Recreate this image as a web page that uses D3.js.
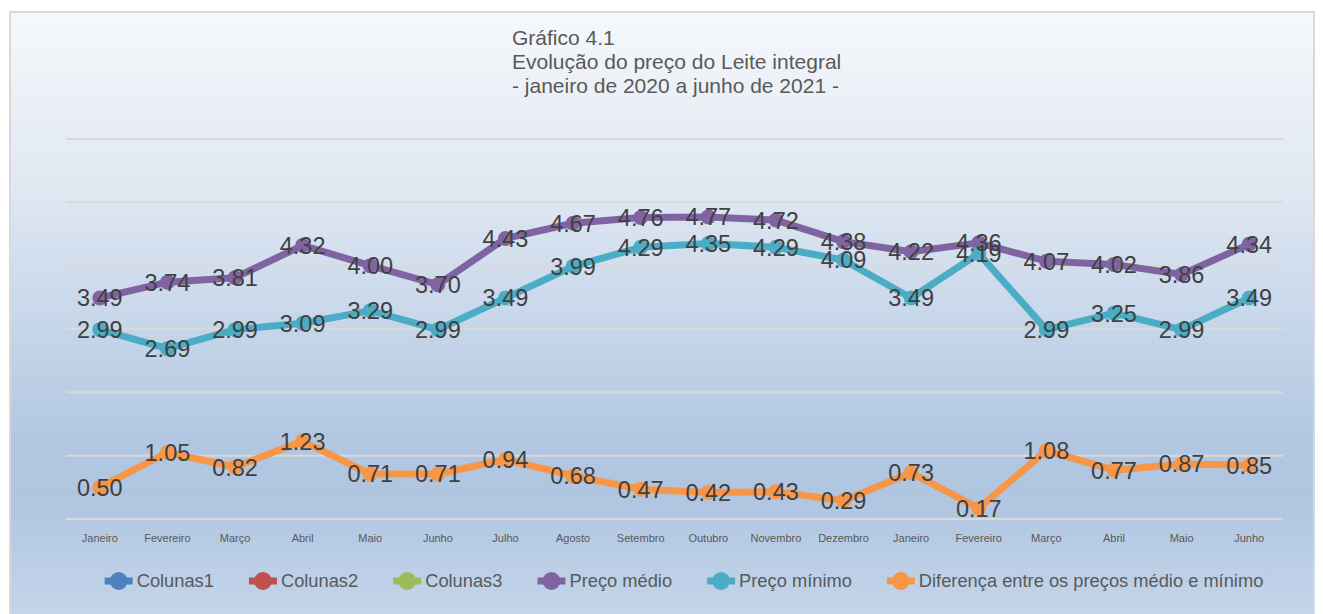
<!DOCTYPE html>
<html><head><meta charset="utf-8">
<script src="https://cdn.jsdelivr.net/npm/d3@7"></script>
<style>html,body{margin:0;padding:0;background:#fff;}svg{display:block;}</style>
</head><body>
<svg id="c" width="1323" height="614"></svg>
<script>
const months = ["Janeiro","Fevereiro","Março","Abril","Maio","Junho","Julho","Agosto","Setembro","Outubro","Novembro","Dezembro","Janeiro","Fevereiro","Março","Abril","Maio","Junho"];
const precoMedio = [3.49,3.74,3.81,4.32,4.00,3.70,4.43,4.67,4.76,4.77,4.72,4.38,4.22,4.36,4.07,4.02,3.86,4.34];
const precoMinimo = [2.99,2.69,2.99,3.09,3.29,2.99,3.49,3.99,4.29,4.35,4.29,4.09,3.49,4.19,2.99,3.25,2.99,3.49];
const diferenca = [0.50,1.05,0.82,1.23,0.71,0.71,0.94,0.68,0.47,0.42,0.43,0.29,0.73,0.17,1.08,0.77,0.87,0.85];
const yTicks = [0,1,2,3,4,5,6];
const titleLines = ["Gráfico 4.1","Evolução do preço do Leite integral","- janeiro de 2020 a junho de 2021 -"];
const legendNames = ["Colunas1","Colunas2","Colunas3","Preço médio","Preço mínimo","Diferença entre os preços médio e mínimo"];
const legendColors = ["#4f81bd","#c0504d","#9bbb59","#8064a2","#4bacc6","#f79646"];

const svg = d3.select("#c");
const font = "'Liberation Sans', Arial, sans-serif";

const defs = svg.append("defs");
const g = defs.append("linearGradient").attr("id","bg").attr("x1",0).attr("y1",0).attr("x2",0).attr("y2",1);
[[0,"#f6f8fb"],[0.3,"#dfe7f2"],[0.7,"#b2c8e2"],[0.8,"#afc5e0"],[1,"#c3d5ea"]].forEach(s=>g.append("stop").attr("offset",s[0]).attr("stop-color",s[1]));

svg.append("rect").attr("x",10).attr("y",12).attr("width",1304).attr("height",604)
  .attr("fill","url(#bg)").attr("stroke","#d9d9d9").attr("stroke-width",2);

const x = d3.scaleBand().domain(d3.range(months.length)).range([66,1283]);
const y = d3.scaleLinear().domain([0,6]).range([519,139]);

// gridlines
svg.append("g").selectAll("line").data(yTicks).join("line")
  .attr("x1",66).attr("x2",1283).attr("y1",d=>y(d)).attr("y2",d=>y(d))
  .attr("stroke","#d9d9d9").attr("stroke-width",2);

// x axis labels
const xAxis = d3.axisBottom(x).tickSize(0).tickPadding(0).tickFormat(i=>months[i]);
const ax = svg.append("g").attr("transform",`translate(0,${534})`).call(xAxis);
ax.select(".domain").remove();
ax.selectAll("text").attr("font-family",font).attr("font-size",11).attr("fill","#595959").attr("dy","0.71em");

const cx = i => x(i) + x.bandwidth()/2;
const series = [
  {vals:precoMedio,color:"#8064a2"},
  {vals:precoMinimo,color:"#4bacc6"},
  {vals:diferenca,color:"#f79646"}
];
const line = d3.line().x((d,i)=>cx(i)).y(d=>y(d));
series.forEach(s=>{
  const gs = svg.append("g");
  gs.append("path").datum(s.vals).attr("d",line).attr("fill","none")
    .attr("stroke",s.color).attr("stroke-width",7).attr("stroke-linejoin","round");
  gs.selectAll("circle").data(s.vals).join("circle")
    .attr("cx",(d,i)=>cx(i)).attr("cy",d=>y(d)).attr("r",7.5).attr("fill",s.color);
});
series.forEach(s=>{
  svg.append("g").selectAll("text").data(s.vals).join("text")
    .attr("x",(d,i)=>cx(i)).attr("y",d=>y(d)).attr("dy","0.36em")
    .attr("text-anchor","middle").attr("font-family",font).attr("font-size",23.5)
    .attr("fill","#404040").text(d=>d.toFixed(2));
});

// title
svg.append("g").selectAll("text").data(titleLines).join("text")
  .attr("x",512).attr("y",(d,i)=>45+i*24).attr("font-family",font).attr("font-size",21)
  .attr("fill","#595959").text(d=>d);

// legend
const lg = svg.append("g");
const items = lg.selectAll("g").data(legendNames).join("g");
items.append("line").attr("x1",-14).attr("x2",14).attr("y1",0).attr("y2",0)
  .attr("stroke",(d,i)=>legendColors[i]).attr("stroke-width",7);
items.append("circle").attr("r",9).attr("fill",(d,i)=>legendColors[i]);
items.append("text").attr("x",18).attr("dy","0.35em").attr("font-family",font).attr("font-size",18.3)
  .attr("fill","#595959").text(d=>d);
let widths = [];
items.each(function(){ widths.push(d3.select(this).select("text").node().getComputedTextLength()); });
const gap = 35;
let total = 0; widths.forEach((w,i)=>{ total += 32 + w + (i<widths.length-1?gap:0); });
let cur = 684 - total/2 + 14;
items.attr("transform",(d,i)=>{ const t=`translate(${cur},581)`; cur += 32 + widths[i] + gap; return t; });
</script>
</body></html>
